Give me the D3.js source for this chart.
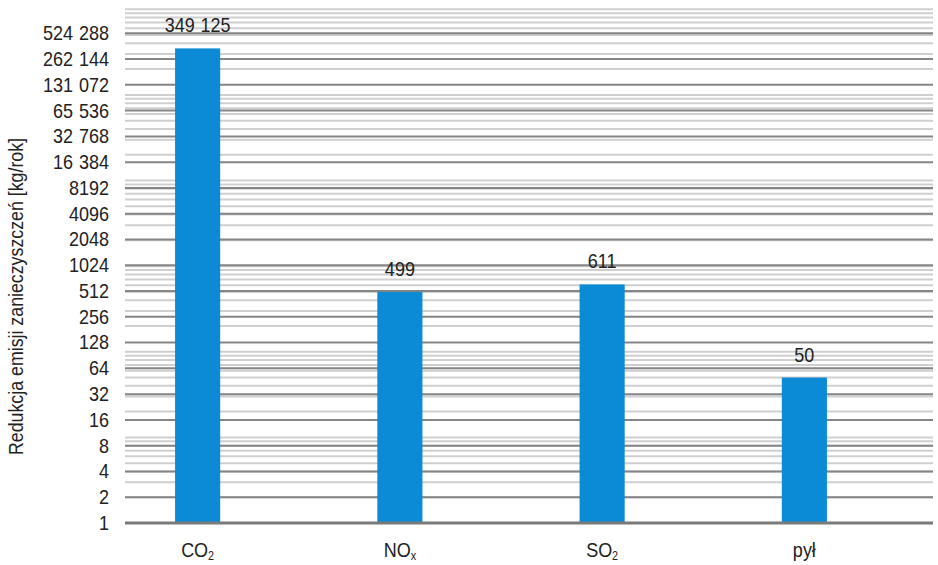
<!DOCTYPE html>
<html>
<head>
<meta charset="utf-8">
<script src="https://cdn.jsdelivr.net/npm/d3@7"></script>
<style>
  body { margin: 0; background: #fff; }
  text { font-family: "Liberation Sans", Arial, sans-serif; fill: #222; }
</style>
</head>
<body>
<svg id="chart" width="938" height="565"></svg>
<script>
// dane
const categories = ["CO", "NO", "SO", "pył"];
const subscripts = ["2", "x", "2", ""];
const values = [349125, 499, 611, 50];
const valueLabels = ["349 125", "499", "611", "50"];
const majorTicks = [1, 2, 4, 8, 16, 32, 64, 128, 256, 512, 1024, 2048, 4096, 8192,
    16384, 32768, 65536, 131072, 262144, 524288];

const svg = d3.select("#chart");
const margin = { left: 125 };
const plotRight = 933;
const plotBottom = 523;
const sx = 0.9; // zwężenie fontu

const y = d3.scaleLog().base(2)
    .domain([1, 1048576])
    .range([plotBottom, 7.5]);

const x = d3.scaleBand()
    .domain(categories)
    .range([96.5, 905.5])
    .paddingInner(0.777)
    .paddingOuter(0.3885);

const fmt = d => d >= 10000 ? d3.format(",")(d).replace(/,/g, " ") : String(d);

// linie pomocnicze (1..9 x 10^n)
const minorTicks = [];
for (let n = 0; n <= 6; n++) {
    for (let k = 1; k <= 9; k++) {
        const v = k * Math.pow(10, n);
        if (v <= 1048576) minorTicks.push(v);
    }
}

svg.append("g")
    .selectAll("line")
    .data(minorTicks)
    .enter()
    .append("line")
    .attr("x1", margin.left)
    .attr("x2", plotRight)
    .attr("y1", d => y(d))
    .attr("y2", d => y(d))
    .attr("stroke", "#cfcfcf")
    .attr("stroke-width", 2);

// główne linie siatki
svg.append("g")
    .selectAll("line")
    .data(majorTicks.slice(1))
    .enter()
    .append("line")
    .attr("x1", margin.left)
    .attr("x2", plotRight)
    .attr("y1", d => y(d))
    .attr("y2", d => y(d))
    .attr("stroke", "#858585")
    .attr("stroke-width", 2);

// słupki
svg.append("g")
    .selectAll("rect")
    .data(values)
    .enter()
    .append("rect")
    .attr("x", (d, i) => x(categories[i]))
    .attr("y", d => y(d))
    .attr("width", x.bandwidth())
    .attr("height", d => y(1) - y(d))
    .attr("fill", "#0b8ad6");

// oś pozioma
svg.append("line")
    .attr("x1", margin.left)
    .attr("x2", plotRight)
    .attr("y1", y(1))
    .attr("y2", y(1))
    .attr("stroke", "#7a7a7a")
    .attr("stroke-width", 3);

// etykiety osi Y
const yAxis = svg.append("g")
    .attr("transform", `translate(${margin.left},0)`)
    .call(d3.axisLeft(y)
        .tickValues(majorTicks)
        .tickSize(0)
        .tickPadding(16)
        .tickFormat(fmt));
yAxis.select(".domain").remove();
yAxis.selectAll("text")
    .attr("x", -16 / sx)
    .attr("transform", `scale(${sx},1)`)
    .style("font-size", "20px")
    .style("font-family", "'Liberation Sans', Arial, sans-serif")
    .style("word-spacing", "1px")
    .attr("fill", "#222");

// etykiety wartości
svg.append("g")
    .selectAll("text")
    .data(values)
    .enter()
    .append("text")
    .attr("transform", (d, i) => `translate(${x(categories[i]) + x.bandwidth() / 2},${y(d) - 16}) scale(${sx},1)`)
    .attr("text-anchor", "middle")
    .style("font-size", "20px")
    .style("word-spacing", "1px")
    .text((d, i) => valueLabels[i]);

// etykiety kategorii
const cat = svg.append("g")
    .selectAll("text")
    .data(categories)
    .enter()
    .append("text")
    .attr("transform", d => `translate(${x(d) + x.bandwidth() / 2},557) scale(${sx},1)`)
    .attr("text-anchor", "middle")
    .style("font-size", "20px");
cat.append("tspan").text(d => d);
cat.append("tspan")
    .attr("dy", 3)
    .style("font-size", "12px")
    .text((d, i) => subscripts[i]);

// tytuł osi Y
svg.append("text")
    .attr("transform", "translate(23,296.5) rotate(-90)")
    .attr("text-anchor", "middle")
    .attr("textLength", 317)
    .attr("lengthAdjust", "spacingAndGlyphs")
    .style("font-size", "20px")
    .text("Redukcja emisji zanieczyszczeń [kg/rok]");
</script>
</body>
</html>
